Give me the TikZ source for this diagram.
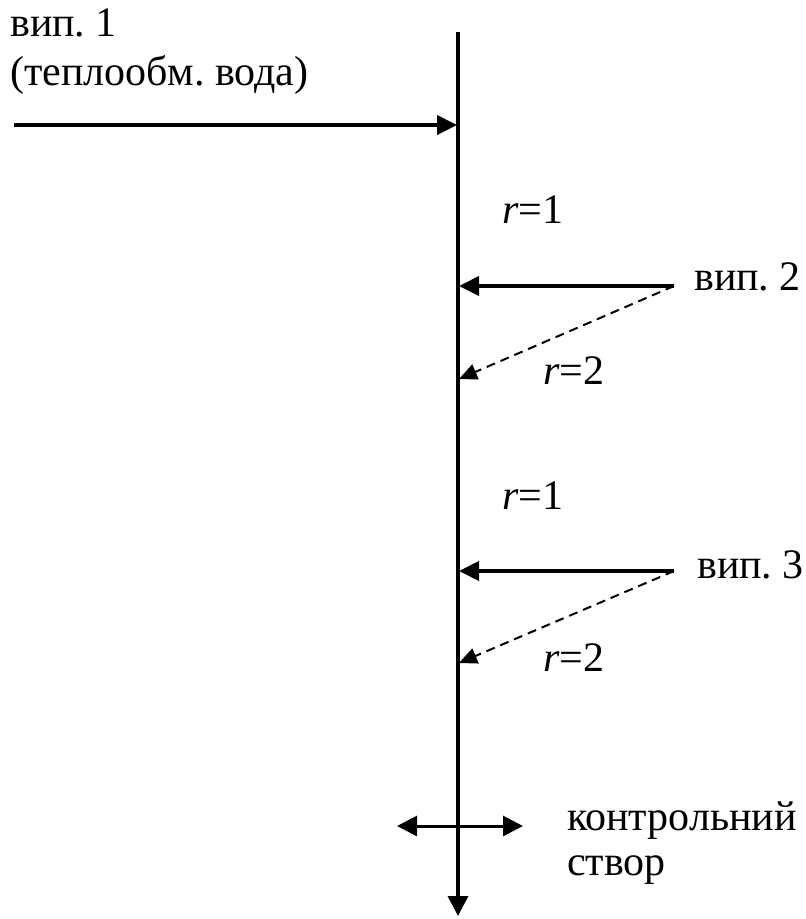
\documentclass[tikz,border=0pt]{standalone}
\usepackage{fontspec}
\setmainfont{Liberation Serif}
\usetikzlibrary{arrows.meta}
\frenchspacing
\begin{document}
\begin{tikzpicture}[x=1pt,y=-1pt,
  lbl/.style={font=\fontsize{42}{48}\selectfont, inner sep=0pt, anchor=base west},
  flow/.style={line width=4pt, -{Triangle[length=20pt,width=19pt]}},
  side/.style={line width=2pt, dash pattern=on 9pt off 6pt, -{Triangle[length=18pt,width=16pt]}},
  river/.style={line width=3.5pt, -{Triangle[length=20pt,width=20pt]}},
  gauge/.style={line width=3pt, {Triangle[length=20pt,width=20pt]}-{Triangle[length=20pt,width=20pt]}}]
  \useasboundingbox (0,0) rectangle (806,919);
  % river axis
  \coordinate (top) at (458,32);
  \coordinate (bot) at (458,916);
  \draw[river] (top) -- (bot);
  % outlet 1
  \coordinate (s1) at (14,125);
  \coordinate (e1) at (457,125);
  \draw[flow] (s1) -- (e1);
  \node[lbl] (v1) at (10,36) {вип. 1};
  \node[lbl] (v1b) at (10,85) {(теплообм. вода)};
  % outlet 2
  \coordinate (s2) at (674,286);
  \coordinate (e2) at (459,286);
  \coordinate (d2) at (459,379);
  \draw[flow] (s2) -- (e2);
  \draw[side] (s2) -- (d2);
  \node[lbl] (v2) at (694,290) {вип. 2};
  \node[lbl] (r21) at (502,223) {\textit{r}=1};
  \node[lbl] (r22) at (543,384) {\textit{r}=2};
  % outlet 3
  \coordinate (s3) at (674,571);
  \coordinate (e3) at (459,571);
  \coordinate (d3) at (459,663);
  \draw[flow] (s3) -- (e3);
  \draw[side] (s3) -- (d3);
  \node[lbl] (v3) at (697,578) {вип. 3};
  \node[lbl] (r31) at (502,509) {\textit{r}=1};
  \node[lbl] (r32) at (543,671) {\textit{r}=2};
  % control section
  \coordinate (cl) at (397,826);
  \coordinate (cr) at (523,826);
  \draw[gauge] (cl) -- (cr);
  \node[lbl] (k1) at (567,830) {контрольний};
  \node[lbl] (k2) at (567,875) {створ};
\end{tikzpicture}
\end{document}
